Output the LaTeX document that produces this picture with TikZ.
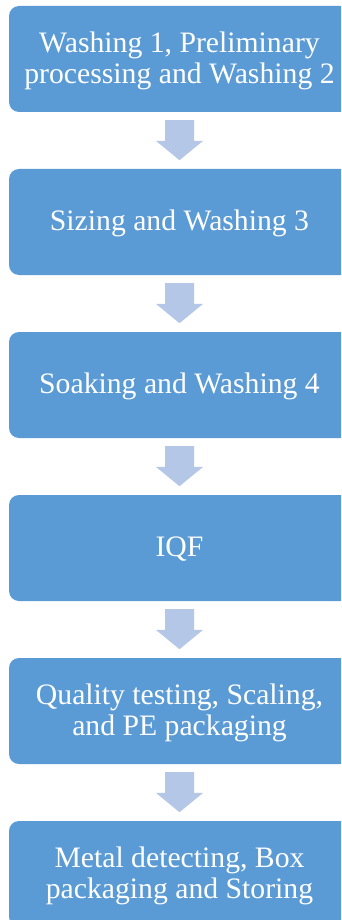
\documentclass[tikz,border=0pt]{standalone}
\usepackage{fontspec}
\setmainfont{Liberation Serif}
\usetikzlibrary{calc}
\definecolor{boxblue}{HTML}{5B9BD5}
\definecolor{arrowblue}{HTML}{B4C7E7}
\begin{document}
\begin{tikzpicture}[x=1pt,y=1pt,
  stepbox/.style={fill=boxblue, rounded corners=10pt, minimum width=341pt,
    minimum height=106pt, inner sep=0pt, text=white, align=center,
    font=\fontsize{29.7}{31}\selectfont},
  oneline/.style={text height=22pt, text depth=4.4pt},
  flowarrow/.style={fill=arrowblue}]
\useasboundingbox (0,0) rectangle (341,-920);
\clip (0,0) rectangle (341,-920);
\fill[white] (0,0) rectangle (341,-920);

% process steps, top to bottom
\node[stepbox] (s1) at (179.5,-59)
  {\rule{0pt}{24.2pt}Washing 1, Preliminary\\processing and Washing 2};
\node[stepbox, oneline] (s2) at (179.5,-222) {Sizing and Washing 3};
\node[stepbox, oneline] (s3) at (179.5,-385) {Soaking and Washing 4};
\node[stepbox, oneline] (s4) at (179.5,-548) {IQF};
\node[stepbox] (s5) at (179.5,-711)
  {\rule{0pt}{24.2pt}Quality testing, Scaling,\\and PE packaging};
\node[stepbox] (s6) at (179.5,-874)
  {\rule{0pt}{24.2pt}Metal detecting, Box\\packaging and Storing};

% block arrows between consecutive steps
\foreach \a/\b in {s1/s2,s2/s3,s3/s4,s4/s5,s5/s6}{
  \fill[flowarrow]
    ($(\a.south)+(-14.5,-8)$) -- ($(\a.south)+(14.5,-8)$)
    -- ($(\a.south)+(14.5,-28.7)$) -- ($(\a.south)+(23.5,-28.7)$)
    -- ($(\b.north)+(0,8.6)$)
    -- ($(\a.south)+(-23.5,-28.7)$) -- ($(\a.south)+(-14.5,-28.7)$)
    -- cycle;
}
\end{tikzpicture}
\end{document}
